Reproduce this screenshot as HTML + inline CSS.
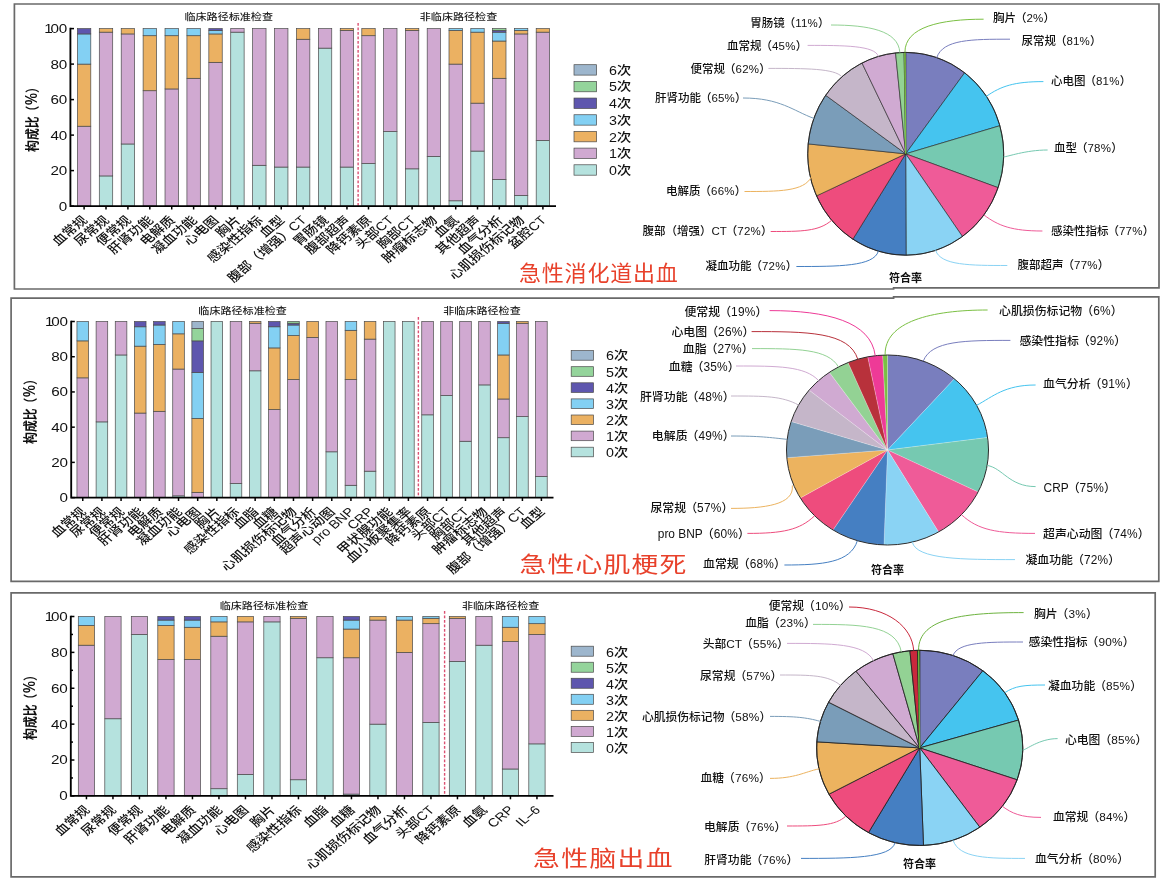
<!DOCTYPE html>
<html lang="zh"><head><meta charset="utf-8"><title>临床路径检查构成比与符合率</title>
<style>html,body{margin:0;padding:0;background:#fff}svg{display:block}text{font-family:'Liberation Sans', 'Noto Sans CJK SC', sans-serif}.pl,.xl,.lg{font-weight:500}</style></head><body>
<svg width="1165" height="884" viewBox="0 0 1165 884">
<rect width="1165" height="884" fill="#fff"/>
<path d="M14.4 4 H1159 V287.9 H893.6 V289 H14.4 Z" fill="#fff" stroke="#696969" stroke-width="1.7"/>
<g stroke="#4a4a4a" stroke-width="0.7">
<rect x="77.4" y="126.22" width="13.4" height="79.88" fill="#D0A9D1"/>
<rect x="77.4" y="64.1" width="13.4" height="62.12" fill="#EBB162"/>
<rect x="77.4" y="33.93" width="13.4" height="30.17" fill="#83D0F3"/>
<rect x="77.4" y="28.6" width="13.4" height="5.33" fill="#5E56AE"/>
<rect x="99.3" y="175.93" width="13.4" height="30.17" fill="#B5E2DE"/>
<rect x="99.3" y="32.15" width="13.4" height="143.78" fill="#D0A9D1"/>
<rect x="99.3" y="28.6" width="13.4" height="3.55" fill="#EBB162"/>
<rect x="121.21" y="143.97" width="13.4" height="62.12" fill="#B5E2DE"/>
<rect x="121.21" y="33.93" width="13.4" height="110.05" fill="#D0A9D1"/>
<rect x="121.21" y="28.6" width="13.4" height="5.33" fill="#EBB162"/>
<rect x="143.11" y="90.72" width="13.4" height="115.38" fill="#D0A9D1"/>
<rect x="143.11" y="35.7" width="13.4" height="55.02" fill="#EBB162"/>
<rect x="143.11" y="28.6" width="13.4" height="7.1" fill="#83D0F3"/>
<rect x="165.02" y="88.95" width="13.4" height="117.15" fill="#D0A9D1"/>
<rect x="165.02" y="35.7" width="13.4" height="53.25" fill="#EBB162"/>
<rect x="165.02" y="28.6" width="13.4" height="7.1" fill="#83D0F3"/>
<rect x="186.92" y="78.3" width="13.4" height="127.8" fill="#D0A9D1"/>
<rect x="186.92" y="35.7" width="13.4" height="42.6" fill="#EBB162"/>
<rect x="186.92" y="28.6" width="13.4" height="7.1" fill="#83D0F3"/>
<rect x="208.83" y="62.32" width="13.4" height="143.78" fill="#D0A9D1"/>
<rect x="208.83" y="33.93" width="13.4" height="28.4" fill="#EBB162"/>
<rect x="208.83" y="30.38" width="13.4" height="3.55" fill="#83D0F3"/>
<rect x="208.83" y="28.6" width="13.4" height="1.78" fill="#5E56AE"/>
<rect x="230.73" y="32.15" width="13.4" height="173.95" fill="#B5E2DE"/>
<rect x="230.73" y="28.6" width="13.4" height="3.55" fill="#D0A9D1"/>
<rect x="252.63" y="165.28" width="13.4" height="40.82" fill="#B5E2DE"/>
<rect x="252.63" y="28.6" width="13.4" height="136.68" fill="#D0A9D1"/>
<rect x="274.54" y="167.05" width="13.4" height="39.05" fill="#B5E2DE"/>
<rect x="274.54" y="28.6" width="13.4" height="138.45" fill="#D0A9D1"/>
<rect x="296.44" y="167.05" width="13.4" height="39.05" fill="#B5E2DE"/>
<rect x="296.44" y="39.25" width="13.4" height="127.8" fill="#D0A9D1"/>
<rect x="296.44" y="28.6" width="13.4" height="10.65" fill="#EBB162"/>
<rect x="318.35" y="48.12" width="13.4" height="157.97" fill="#B5E2DE"/>
<rect x="318.35" y="28.6" width="13.4" height="19.53" fill="#D0A9D1"/>
<rect x="340.25" y="167.05" width="13.4" height="39.05" fill="#B5E2DE"/>
<rect x="340.25" y="30.38" width="13.4" height="136.68" fill="#D0A9D1"/>
<rect x="340.25" y="28.6" width="13.4" height="1.78" fill="#EBB162"/>
<rect x="361.8" y="163.5" width="13.4" height="42.6" fill="#B5E2DE"/>
<rect x="361.8" y="35.7" width="13.4" height="127.8" fill="#D0A9D1"/>
<rect x="361.8" y="28.6" width="13.4" height="7.1" fill="#EBB162"/>
<rect x="383.6" y="131.55" width="13.4" height="74.55" fill="#B5E2DE"/>
<rect x="383.6" y="28.6" width="13.4" height="102.95" fill="#D0A9D1"/>
<rect x="405.4" y="168.82" width="13.4" height="37.28" fill="#B5E2DE"/>
<rect x="405.4" y="30.38" width="13.4" height="138.45" fill="#D0A9D1"/>
<rect x="405.4" y="28.6" width="13.4" height="1.78" fill="#EBB162"/>
<rect x="427.2" y="156.4" width="13.4" height="49.7" fill="#B5E2DE"/>
<rect x="427.2" y="28.6" width="13.4" height="127.8" fill="#D0A9D1"/>
<rect x="449" y="200.78" width="13.4" height="5.32" fill="#B5E2DE"/>
<rect x="449" y="64.1" width="13.4" height="136.68" fill="#D0A9D1"/>
<rect x="449" y="30.38" width="13.4" height="33.72" fill="#EBB162"/>
<rect x="449" y="28.6" width="13.4" height="1.78" fill="#83D0F3"/>
<rect x="470.8" y="151.07" width="13.4" height="55.03" fill="#B5E2DE"/>
<rect x="470.8" y="103.15" width="13.4" height="47.92" fill="#D0A9D1"/>
<rect x="470.8" y="32.15" width="13.4" height="71" fill="#EBB162"/>
<rect x="470.8" y="28.6" width="13.4" height="3.55" fill="#83D0F3"/>
<rect x="492.6" y="179.47" width="13.4" height="26.62" fill="#B5E2DE"/>
<rect x="492.6" y="78.3" width="13.4" height="101.17" fill="#D0A9D1"/>
<rect x="492.6" y="41.03" width="13.4" height="37.27" fill="#EBB162"/>
<rect x="492.6" y="32.15" width="13.4" height="8.88" fill="#83D0F3"/>
<rect x="492.6" y="30.38" width="13.4" height="1.78" fill="#5E56AE"/>
<rect x="492.6" y="28.6" width="13.4" height="1.78" fill="#94D49B"/>
<rect x="514.4" y="195.45" width="13.4" height="10.65" fill="#B5E2DE"/>
<rect x="514.4" y="33.93" width="13.4" height="161.52" fill="#D0A9D1"/>
<rect x="514.4" y="30.38" width="13.4" height="3.55" fill="#EBB162"/>
<rect x="514.4" y="28.6" width="13.4" height="1.78" fill="#83D0F3"/>
<rect x="536.2" y="140.43" width="13.4" height="65.67" fill="#B5E2DE"/>
<rect x="536.2" y="32.15" width="13.4" height="108.28" fill="#D0A9D1"/>
<rect x="536.2" y="28.6" width="13.4" height="3.55" fill="#EBB162"/>
</g>
<line x1="358.12" y1="23" x2="358.12" y2="206.1" stroke="#DB5072" stroke-width="1.4" stroke-dasharray="2.7,1.8"/>
<g stroke="#000" stroke-width="1.85" fill="none">
<path d="M70.4 27.8 V206.1 H556"/>
</g>
<g stroke="#000" stroke-width="1.5">
<line x1="70.4" y1="206.1" x2="74" y2="206.1"/>
<line x1="70.4" y1="170.6" x2="74" y2="170.6"/>
<line x1="70.4" y1="135.1" x2="74" y2="135.1"/>
<line x1="70.4" y1="99.6" x2="74" y2="99.6"/>
<line x1="70.4" y1="64.1" x2="74" y2="64.1"/>
<line x1="70.4" y1="28.6" x2="74" y2="28.6"/>
<line x1="84.1" y1="206.1" x2="84.1" y2="209.5"/>
<line x1="106" y1="206.1" x2="106" y2="209.5"/>
<line x1="127.91" y1="206.1" x2="127.91" y2="209.5"/>
<line x1="149.81" y1="206.1" x2="149.81" y2="209.5"/>
<line x1="171.72" y1="206.1" x2="171.72" y2="209.5"/>
<line x1="193.62" y1="206.1" x2="193.62" y2="209.5"/>
<line x1="215.53" y1="206.1" x2="215.53" y2="209.5"/>
<line x1="237.43" y1="206.1" x2="237.43" y2="209.5"/>
<line x1="259.33" y1="206.1" x2="259.33" y2="209.5"/>
<line x1="281.24" y1="206.1" x2="281.24" y2="209.5"/>
<line x1="303.14" y1="206.1" x2="303.14" y2="209.5"/>
<line x1="325.05" y1="206.1" x2="325.05" y2="209.5"/>
<line x1="346.95" y1="206.1" x2="346.95" y2="209.5"/>
<line x1="368.5" y1="206.1" x2="368.5" y2="209.5"/>
<line x1="390.3" y1="206.1" x2="390.3" y2="209.5"/>
<line x1="412.1" y1="206.1" x2="412.1" y2="209.5"/>
<line x1="433.9" y1="206.1" x2="433.9" y2="209.5"/>
<line x1="455.7" y1="206.1" x2="455.7" y2="209.5"/>
<line x1="477.5" y1="206.1" x2="477.5" y2="209.5"/>
<line x1="499.3" y1="206.1" x2="499.3" y2="209.5"/>
<line x1="521.1" y1="206.1" x2="521.1" y2="209.5"/>
<line x1="542.9" y1="206.1" x2="542.9" y2="209.5"/>
</g>
<g font-size="12.3" text-anchor="end" fill="#111">
<text transform="translate(67 210.5) scale(1.24 1)" letter-spacing="-0.2">0</text>
<text transform="translate(67 175) scale(1.24 1)" letter-spacing="-0.2">20</text>
<text transform="translate(67 139.5) scale(1.24 1)" letter-spacing="-0.2">40</text>
<text transform="translate(67 104) scale(1.24 1)" letter-spacing="-0.2">60</text>
<text transform="translate(67 68.5) scale(1.24 1)" letter-spacing="-0.2">80</text>
<text transform="translate(67 33) scale(1.24 1)" letter-spacing="-0.2"><tspan>1</tspan><tspan dx="-1.6">00</tspan></text>
</g>
<text class="yt" transform="translate(36.6 116.5) rotate(-90) scale(0.84 1)" text-anchor="middle" font-size="14.2" font-weight="bold" fill="#111">构成比<tspan dx="-1.5">（</tspan><tspan dx="0.6" font-size="16">%</tspan><tspan dx="0.2">）</tspan></text>
<g font-size="12" text-anchor="end" fill="#111">
<text class="xl" transform="translate(88.3 220.9) scale(1.19 1) rotate(-45)">血常规</text>
<text class="xl" transform="translate(110.2 220.9) scale(1.19 1) rotate(-45)">尿常规</text>
<text class="xl" transform="translate(132.11 220.9) scale(1.19 1) rotate(-45)">便常规</text>
<text class="xl" transform="translate(154.01 220.9) scale(1.19 1) rotate(-45)">肝肾功能</text>
<text class="xl" transform="translate(175.92 220.9) scale(1.19 1) rotate(-45)">电解质</text>
<text class="xl" transform="translate(197.82 220.9) scale(1.19 1) rotate(-45)">凝血功能</text>
<text class="xl" transform="translate(219.72 220.9) scale(1.19 1) rotate(-45)">心电图</text>
<text class="xl" transform="translate(241.63 220.9) scale(1.19 1) rotate(-45)">胸片</text>
<text class="xl" transform="translate(263.53 220.9) scale(1.19 1) rotate(-45)">感染性指标</text>
<text class="xl" transform="translate(285.44 220.9) scale(1.19 1) rotate(-45)">血型</text>
<text class="xl" transform="translate(307.34 220.9) scale(1.19 1) rotate(-45)">腹部（增强）CT</text>
<text class="xl" transform="translate(329.25 220.9) scale(1.19 1) rotate(-45)">胃肠镜</text>
<text class="xl" transform="translate(351.15 220.9) scale(1.19 1) rotate(-45)">腹部超声</text>
<text class="xl" transform="translate(372.7 220.9) scale(1.19 1) rotate(-45)">降钙素原</text>
<text class="xl" transform="translate(394.5 220.9) scale(1.19 1) rotate(-45)">头部CT</text>
<text class="xl" transform="translate(416.3 220.9) scale(1.19 1) rotate(-45)">胸部CT</text>
<text class="xl" transform="translate(438.1 220.9) scale(1.19 1) rotate(-45)">肿瘤标志物</text>
<text class="xl" transform="translate(459.9 220.9) scale(1.19 1) rotate(-45)">血氨</text>
<text class="xl" transform="translate(481.7 220.9) scale(1.19 1) rotate(-45)">其他超声</text>
<text class="xl" transform="translate(503.5 220.9) scale(1.19 1) rotate(-45)">血气分析</text>
<text class="xl" transform="translate(525.3 220.9) scale(1.19 1) rotate(-45)">心肌损伤标记物</text>
<text class="xl" transform="translate(547.1 220.9) scale(1.19 1) rotate(-45)">盆腔CT</text>
</g>
<text class="hd" transform="translate(228.7 20.3) scale(1.19 1)" text-anchor="middle" font-size="9.3" font-weight="500" fill="#222">临床路径标准检查</text>
<text class="hd" transform="translate(458.5 20.3) scale(1.19 1)" text-anchor="middle" font-size="9.3" font-weight="500" fill="#222">非临床路径检查</text>
<rect x="574" y="64.7" width="22.6" height="10.4" fill="#9DB6CD" stroke="#4a4a4a" stroke-width="0.7"/>
<text class="lg" transform="translate(609 74.8) scale(1.17 1)" font-size="12.2" fill="#111">6次</text>
<rect x="574" y="81.38" width="22.6" height="10.4" fill="#94D49B" stroke="#4a4a4a" stroke-width="0.7"/>
<text class="lg" transform="translate(609 91.48) scale(1.17 1)" font-size="12.2" fill="#111">5次</text>
<rect x="574" y="98.06" width="22.6" height="10.4" fill="#5E56AE" stroke="#4a4a4a" stroke-width="0.7"/>
<text class="lg" transform="translate(609 108.16) scale(1.17 1)" font-size="12.2" fill="#111">4次</text>
<rect x="574" y="114.74" width="22.6" height="10.4" fill="#83D0F3" stroke="#4a4a4a" stroke-width="0.7"/>
<text class="lg" transform="translate(609 124.84) scale(1.17 1)" font-size="12.2" fill="#111">3次</text>
<rect x="574" y="131.42" width="22.6" height="10.4" fill="#EBB162" stroke="#4a4a4a" stroke-width="0.7"/>
<text class="lg" transform="translate(609 141.52) scale(1.17 1)" font-size="12.2" fill="#111">2次</text>
<rect x="574" y="148.1" width="22.6" height="10.4" fill="#D0A9D1" stroke="#4a4a4a" stroke-width="0.7"/>
<text class="lg" transform="translate(609 158.2) scale(1.17 1)" font-size="12.2" fill="#111">1次</text>
<rect x="574" y="164.78" width="22.6" height="10.4" fill="#B5E2DE" stroke="#4a4a4a" stroke-width="0.7"/>
<text class="lg" transform="translate(609 174.88) scale(1.17 1)" font-size="12.2" fill="#111">0次</text>
<text class="tt" transform="translate(519 280.6) scale(1 1)" font-size="22" letter-spacing="0.8" fill="#E8412B">急性消化道出血</text>
<g stroke="#222" stroke-width="0.6" stroke-linejoin="round">
<path d="M905.7 153.8 L905.7 52.4 A98 101.4 0 0 1 964.62 72.77 Z" fill="#797EBE"/>
<path d="M905.7 153.8 L964.62 72.77 A98 101.4 0 0 1 999.86 125.71 Z" fill="#45C4EF"/>
<path d="M905.7 153.8 L999.86 125.71 A98 101.4 0 0 1 998.08 187.66 Z" fill="#76C9B1"/>
<path d="M905.7 153.8 L998.08 187.66 A98 101.4 0 0 1 962.42 236.49 Z" fill="#EF5B98"/>
<path d="M905.7 153.8 L962.42 236.49 A98 101.4 0 0 1 906.09 255.2 Z" fill="#8AD3F4"/>
<path d="M905.7 153.8 L906.09 255.2 A98 101.4 0 0 1 852.87 239.2 Z" fill="#457FC2"/>
<path d="M905.7 153.8 L852.87 239.2 A98 101.4 0 0 1 816.54 195.89 Z" fill="#EE4C7D"/>
<path d="M905.7 153.8 L816.54 195.89 A98 101.4 0 0 1 808.17 143.92 Z" fill="#ECB35F"/>
<path d="M905.7 153.8 L808.17 143.92 A98 101.4 0 0 1 825.67 95.28 Z" fill="#7A9DB9"/>
<path d="M905.7 153.8 L825.67 95.28 A98 101.4 0 0 1 862.03 63.03 Z" fill="#C5B6C9"/>
<path d="M905.7 153.8 L862.03 63.03 A98 101.4 0 0 1 895.57 52.94 Z" fill="#D0AAD2"/>
<path d="M905.7 153.8 L895.57 52.94 A98 101.4 0 0 1 904.14 52.41 Z" fill="#93D294"/>
<path d="M905.7 153.8 L904.14 52.41 A98 101.4 0 0 1 905.7 52.4 Z" fill="#7BC043"/>
</g>
<line x1="905.7" y1="153.8" x2="904.92" y2="52.4" stroke="#7BC043" stroke-width="1.3"/>
<ellipse cx="905.7" cy="153.8" rx="98" ry="101.4" fill="none" stroke="#222" stroke-width="0.95"/>
<path d="M936.76 57.63 C942.92 39.2 972.24 39.2 1010 39.2" fill="none" stroke="#797EBE" stroke-width="1"/>
<text class="pl" x="1021.4" y="44.6" text-anchor="start" font-size="11.5" fill="#111">尿常规<tspan dx="-1">（</tspan><tspan letter-spacing="0.2">81%</tspan>）</text>
<path d="M986.4 96.27 C1000.94 86.26 1013.97 81.6 1043.4 81.6" fill="none" stroke="#45C4EF" stroke-width="1"/>
<text class="pl" x="1051" y="84.6" text-anchor="start" font-size="11.5" fill="#111">心电图<tspan dx="-1">（</tspan><tspan letter-spacing="0.2">81%</tspan>）</text>
<path d="M1003.66 156.83 C1007.21 156.93 1025.36 150 1047.6 150" fill="none" stroke="#76C9B1" stroke-width="1"/>
<text class="pl" x="1054" y="152" text-anchor="start" font-size="11.5" fill="#111">血型<tspan dx="-1">（</tspan><tspan letter-spacing="0.2">78%</tspan>）</text>
<path d="M983.89 214.93 C998.42 225.9 1012.06 231 1042.4 231" fill="none" stroke="#EF5B98" stroke-width="1"/>
<text class="pl" x="1051" y="234.7" text-anchor="start" font-size="11.5" fill="#111">感染性指标<tspan dx="-1">（</tspan><tspan letter-spacing="0.2">77%</tspan>）</text>
<path d="M935.65 250.35 C940.51 265.5 970.68 265.5 1007.3 265.5" fill="none" stroke="#8AD3F4" stroke-width="1"/>
<text class="pl" x="1017.6" y="269" text-anchor="start" font-size="11.5" fill="#111">腹部超声<tspan dx="-1">（</tspan><tspan letter-spacing="0.2">77%</tspan>）</text>
<path d="M878.36 251.17 C873.91 266.5 838.09 266.5 796.4 266.5" fill="none" stroke="#457FC2" stroke-width="1"/>
<text class="pl" x="797.13" y="269.9" text-anchor="end" font-size="11.5" fill="#111">凝血功能<tspan dx="-1">（</tspan><tspan letter-spacing="0.2">72%</tspan>）</text>
<path d="M831.68 220.26 C818.73 231.5 801.71 231.5 770.7 231.5" fill="none" stroke="#EE4C7D" stroke-width="1"/>
<text class="pl" x="772.43" y="235.2" text-anchor="end" font-size="11.5" fill="#111">腹部（增强）CT<tspan dx="-1">（</tspan><tspan letter-spacing="0.2">72%</tspan>）</text>
<path d="M811.3 177 C804.05 191.5 778.68 191.5 744.5 191.5" fill="none" stroke="#ECB35F" stroke-width="1"/>
<text class="pl" x="746.23" y="195" text-anchor="end" font-size="11.5" fill="#111">电解质<tspan dx="-1">（</tspan><tspan letter-spacing="0.2">66%</tspan>）</text>
<path d="M813.86 118.42 C793.12 110.71 779.87 98 743 98" fill="none" stroke="#7A9DB9" stroke-width="1"/>
<text class="pl" x="746.53" y="102.4" text-anchor="end" font-size="11.5" fill="#111">肝肾功能<tspan dx="-1">（</tspan><tspan letter-spacing="0.2">65%</tspan>）</text>
<path d="M841.91 76.82 C834.69 68.4 805.4 68.4 768.4 68.4" fill="none" stroke="#C5B6C9" stroke-width="1"/>
<text class="pl" x="770.73" y="73" text-anchor="end" font-size="11.5" fill="#111">便常规<tspan dx="-1">（</tspan><tspan letter-spacing="0.2">62%</tspan>）</text>
<path d="M878.36 56.43 C875.16 45.4 843.41 45.4 807.6 45.4" fill="none" stroke="#D0AAD2" stroke-width="1"/>
<text class="pl" x="807.13" y="50" text-anchor="end" font-size="11.5" fill="#111">血常规<tspan dx="-1">（</tspan><tspan letter-spacing="0.2">45%</tspan>）</text>
<path d="M899.85 52.58 C898.52 30.37 868.08 25 831 25" fill="none" stroke="#93D294" stroke-width="1"/>
<text class="pl" x="829.53" y="27" text-anchor="end" font-size="11.5" fill="#111">胃肠镜<tspan dx="-1">（</tspan><tspan letter-spacing="0.2">11%</tspan>）</text>
<path d="M904.92 52.4 C904.72 26.78 940.9 19.2 983.6 19.2" fill="none" stroke="#7BC043" stroke-width="1"/>
<text class="pl" x="993" y="22" text-anchor="start" font-size="11.5" fill="#111">胸片<tspan dx="-1">（</tspan><tspan letter-spacing="0.2">2%</tspan>）</text>
<text class="rt" x="905.6" y="282" text-anchor="middle" font-size="11" font-weight="bold" fill="#111">符合率</text>
<path d="M11.1 298.1 H893.6 V296.8 H1158.8 V581.4 H11.1 Z" fill="#fff" stroke="#696969" stroke-width="1.7"/>
<g stroke="#4a4a4a" stroke-width="0.7">
<rect x="76.95" y="377.85" width="11.6" height="119.75" fill="#D0A9D1"/>
<rect x="76.95" y="340.87" width="11.6" height="36.98" fill="#EBB162"/>
<rect x="76.95" y="321.5" width="11.6" height="19.37" fill="#83D0F3"/>
<rect x="96.11" y="421.88" width="11.6" height="75.72" fill="#B5E2DE"/>
<rect x="96.11" y="321.5" width="11.6" height="100.38" fill="#D0A9D1"/>
<rect x="115.26" y="354.96" width="11.6" height="142.64" fill="#B5E2DE"/>
<rect x="115.26" y="321.5" width="11.6" height="33.46" fill="#D0A9D1"/>
<rect x="134.42" y="413.07" width="11.6" height="84.53" fill="#D0A9D1"/>
<rect x="134.42" y="346.15" width="11.6" height="66.92" fill="#EBB162"/>
<rect x="134.42" y="326.78" width="11.6" height="19.37" fill="#83D0F3"/>
<rect x="134.42" y="321.5" width="11.6" height="5.28" fill="#5E56AE"/>
<rect x="153.57" y="411.31" width="11.6" height="86.29" fill="#D0A9D1"/>
<rect x="153.57" y="344.39" width="11.6" height="66.92" fill="#EBB162"/>
<rect x="153.57" y="325.02" width="11.6" height="19.37" fill="#83D0F3"/>
<rect x="153.57" y="321.5" width="11.6" height="3.52" fill="#5E56AE"/>
<rect x="172.73" y="495.84" width="11.6" height="1.76" fill="#B5E2DE"/>
<rect x="172.73" y="369.05" width="11.6" height="126.79" fill="#D0A9D1"/>
<rect x="172.73" y="333.83" width="11.6" height="35.22" fill="#EBB162"/>
<rect x="172.73" y="321.5" width="11.6" height="12.33" fill="#83D0F3"/>
<rect x="191.88" y="492.32" width="11.6" height="5.28" fill="#D0A9D1"/>
<rect x="191.88" y="418.36" width="11.6" height="73.96" fill="#EBB162"/>
<rect x="191.88" y="372.57" width="11.6" height="45.79" fill="#83D0F3"/>
<rect x="191.88" y="340.87" width="11.6" height="31.7" fill="#5E56AE"/>
<rect x="191.88" y="328.54" width="11.6" height="12.33" fill="#94D49B"/>
<rect x="191.88" y="321.5" width="11.6" height="7.04" fill="#9DB6CD"/>
<rect x="211.04" y="321.5" width="11.6" height="176.1" fill="#B5E2DE"/>
<rect x="230.19" y="483.51" width="11.6" height="14.09" fill="#B5E2DE"/>
<rect x="230.19" y="321.5" width="11.6" height="162.01" fill="#D0A9D1"/>
<rect x="249.35" y="370.81" width="11.6" height="126.79" fill="#B5E2DE"/>
<rect x="249.35" y="323.26" width="11.6" height="47.55" fill="#D0A9D1"/>
<rect x="249.35" y="321.5" width="11.6" height="1.76" fill="#EBB162"/>
<rect x="268.51" y="409.55" width="11.6" height="88.05" fill="#D0A9D1"/>
<rect x="268.51" y="347.92" width="11.6" height="61.63" fill="#EBB162"/>
<rect x="268.51" y="326.78" width="11.6" height="21.13" fill="#83D0F3"/>
<rect x="268.51" y="321.5" width="11.6" height="5.28" fill="#5E56AE"/>
<rect x="287.66" y="379.61" width="11.6" height="117.99" fill="#D0A9D1"/>
<rect x="287.66" y="335.59" width="11.6" height="44.02" fill="#EBB162"/>
<rect x="287.66" y="325.02" width="11.6" height="10.57" fill="#83D0F3"/>
<rect x="287.66" y="323.26" width="11.6" height="1.76" fill="#5E56AE"/>
<rect x="287.66" y="321.5" width="11.6" height="1.76" fill="#94D49B"/>
<rect x="306.82" y="337.35" width="11.6" height="160.25" fill="#D0A9D1"/>
<rect x="306.82" y="321.5" width="11.6" height="15.85" fill="#EBB162"/>
<rect x="325.97" y="451.81" width="11.6" height="45.79" fill="#B5E2DE"/>
<rect x="325.97" y="321.5" width="11.6" height="130.31" fill="#D0A9D1"/>
<rect x="345.13" y="485.27" width="11.6" height="12.33" fill="#B5E2DE"/>
<rect x="345.13" y="379.61" width="11.6" height="105.66" fill="#D0A9D1"/>
<rect x="345.13" y="330.31" width="11.6" height="49.31" fill="#EBB162"/>
<rect x="345.13" y="321.5" width="11.6" height="8.81" fill="#83D0F3"/>
<rect x="364.28" y="471.19" width="11.6" height="26.42" fill="#B5E2DE"/>
<rect x="364.28" y="339.11" width="11.6" height="132.07" fill="#D0A9D1"/>
<rect x="364.28" y="321.5" width="11.6" height="17.61" fill="#EBB162"/>
<rect x="383.44" y="321.5" width="11.6" height="176.1" fill="#B5E2DE"/>
<rect x="402.59" y="321.5" width="11.6" height="176.1" fill="#B5E2DE"/>
<rect x="421.75" y="414.83" width="11.6" height="82.77" fill="#B5E2DE"/>
<rect x="421.75" y="321.5" width="11.6" height="93.33" fill="#D0A9D1"/>
<rect x="440.73" y="395.46" width="11.6" height="102.14" fill="#B5E2DE"/>
<rect x="440.73" y="321.5" width="11.6" height="73.96" fill="#D0A9D1"/>
<rect x="459.7" y="441.25" width="11.6" height="56.35" fill="#B5E2DE"/>
<rect x="459.7" y="321.5" width="11.6" height="119.75" fill="#D0A9D1"/>
<rect x="478.68" y="384.9" width="11.6" height="112.7" fill="#B5E2DE"/>
<rect x="478.68" y="321.5" width="11.6" height="63.4" fill="#D0A9D1"/>
<rect x="497.65" y="437.73" width="11.6" height="59.87" fill="#B5E2DE"/>
<rect x="497.65" y="398.98" width="11.6" height="38.74" fill="#D0A9D1"/>
<rect x="497.65" y="354.96" width="11.6" height="44.03" fill="#EBB162"/>
<rect x="497.65" y="323.26" width="11.6" height="31.7" fill="#83D0F3"/>
<rect x="497.65" y="321.5" width="11.6" height="1.76" fill="#5E56AE"/>
<rect x="516.62" y="416.59" width="11.6" height="81.01" fill="#B5E2DE"/>
<rect x="516.62" y="323.26" width="11.6" height="93.33" fill="#D0A9D1"/>
<rect x="516.62" y="321.5" width="11.6" height="1.76" fill="#EBB162"/>
<rect x="535.6" y="476.47" width="11.6" height="21.13" fill="#B5E2DE"/>
<rect x="535.6" y="321.5" width="11.6" height="154.97" fill="#D0A9D1"/>
</g>
<line x1="418.37" y1="317" x2="418.37" y2="497.6" stroke="#DB5072" stroke-width="1.4" stroke-dasharray="2.7,1.8"/>
<g stroke="#000" stroke-width="1.85" fill="none">
<path d="M71.2 320.7 V497.6 H553.5"/>
</g>
<g stroke="#000" stroke-width="1.5">
<line x1="71.2" y1="497.6" x2="74.8" y2="497.6"/>
<line x1="71.2" y1="462.38" x2="74.8" y2="462.38"/>
<line x1="71.2" y1="427.16" x2="74.8" y2="427.16"/>
<line x1="71.2" y1="391.94" x2="74.8" y2="391.94"/>
<line x1="71.2" y1="356.72" x2="74.8" y2="356.72"/>
<line x1="71.2" y1="321.5" x2="74.8" y2="321.5"/>
<line x1="82.75" y1="497.6" x2="82.75" y2="501"/>
<line x1="101.91" y1="497.6" x2="101.91" y2="501"/>
<line x1="121.06" y1="497.6" x2="121.06" y2="501"/>
<line x1="140.22" y1="497.6" x2="140.22" y2="501"/>
<line x1="159.37" y1="497.6" x2="159.37" y2="501"/>
<line x1="178.53" y1="497.6" x2="178.53" y2="501"/>
<line x1="197.68" y1="497.6" x2="197.68" y2="501"/>
<line x1="216.84" y1="497.6" x2="216.84" y2="501"/>
<line x1="235.99" y1="497.6" x2="235.99" y2="501"/>
<line x1="255.15" y1="497.6" x2="255.15" y2="501"/>
<line x1="274.31" y1="497.6" x2="274.31" y2="501"/>
<line x1="293.46" y1="497.6" x2="293.46" y2="501"/>
<line x1="312.62" y1="497.6" x2="312.62" y2="501"/>
<line x1="331.77" y1="497.6" x2="331.77" y2="501"/>
<line x1="350.93" y1="497.6" x2="350.93" y2="501"/>
<line x1="370.08" y1="497.6" x2="370.08" y2="501"/>
<line x1="389.24" y1="497.6" x2="389.24" y2="501"/>
<line x1="408.39" y1="497.6" x2="408.39" y2="501"/>
<line x1="427.55" y1="497.6" x2="427.55" y2="501"/>
<line x1="446.53" y1="497.6" x2="446.53" y2="501"/>
<line x1="465.5" y1="497.6" x2="465.5" y2="501"/>
<line x1="484.48" y1="497.6" x2="484.48" y2="501"/>
<line x1="503.45" y1="497.6" x2="503.45" y2="501"/>
<line x1="522.42" y1="497.6" x2="522.42" y2="501"/>
<line x1="541.4" y1="497.6" x2="541.4" y2="501"/>
</g>
<g font-size="12.3" text-anchor="end" fill="#111">
<text transform="translate(67.8 502) scale(1.24 1)" letter-spacing="-0.2">0</text>
<text transform="translate(67.8 466.78) scale(1.24 1)" letter-spacing="-0.2">20</text>
<text transform="translate(67.8 431.56) scale(1.24 1)" letter-spacing="-0.2">40</text>
<text transform="translate(67.8 396.34) scale(1.24 1)" letter-spacing="-0.2">60</text>
<text transform="translate(67.8 361.12) scale(1.24 1)" letter-spacing="-0.2">80</text>
<text transform="translate(67.8 325.9) scale(1.24 1)" letter-spacing="-0.2"><tspan>1</tspan><tspan dx="-1.6">00</tspan></text>
</g>
<text class="yt" transform="translate(34.6 408.5) rotate(-90) scale(0.84 1)" text-anchor="middle" font-size="14.2" font-weight="bold" fill="#111">构成比<tspan dx="-1.5">（</tspan><tspan dx="0.6" font-size="16">%</tspan><tspan dx="0.2">）</tspan></text>
<g font-size="12" text-anchor="end" fill="#111">
<text class="xl" transform="translate(86.95 512.4) scale(1.19 1) rotate(-45)">血常规</text>
<text class="xl" transform="translate(106.11 512.4) scale(1.19 1) rotate(-45)">尿常规</text>
<text class="xl" transform="translate(125.26 512.4) scale(1.19 1) rotate(-45)">便常规</text>
<text class="xl" transform="translate(144.42 512.4) scale(1.19 1) rotate(-45)">肝肾功能</text>
<text class="xl" transform="translate(163.57 512.4) scale(1.19 1) rotate(-45)">电解质</text>
<text class="xl" transform="translate(182.73 512.4) scale(1.19 1) rotate(-45)">凝血功能</text>
<text class="xl" transform="translate(201.88 512.4) scale(1.19 1) rotate(-45)">心电图</text>
<text class="xl" transform="translate(221.04 512.4) scale(1.19 1) rotate(-45)">胸片</text>
<text class="xl" transform="translate(240.19 512.4) scale(1.19 1) rotate(-45)">感染性指标</text>
<text class="xl" transform="translate(259.35 512.4) scale(1.19 1) rotate(-45)">血脂</text>
<text class="xl" transform="translate(278.51 512.4) scale(1.19 1) rotate(-45)">血糖</text>
<text class="xl" transform="translate(297.66 512.4) scale(1.19 1) rotate(-45)">心肌损伤标记物</text>
<text class="xl" transform="translate(316.82 512.4) scale(1.19 1) rotate(-45)">血气分析</text>
<text class="xl" transform="translate(335.97 512.4) scale(1.19 1) rotate(-45)">超声心动图</text>
<text class="xl" transform="translate(355.13 512.4) scale(1.19 1) rotate(-45)">pro BNP</text>
<text class="xl" transform="translate(374.28 512.4) scale(1.19 1) rotate(-45)">CRP</text>
<text class="xl" transform="translate(393.44 512.4) scale(1.19 1) rotate(-45)">甲状腺功能</text>
<text class="xl" transform="translate(412.59 512.4) scale(1.19 1) rotate(-45)">血小板聚集率</text>
<text class="xl" transform="translate(431.75 512.4) scale(1.19 1) rotate(-45)">降钙素原</text>
<text class="xl" transform="translate(450.73 512.4) scale(1.19 1) rotate(-45)">头部CT</text>
<text class="xl" transform="translate(469.7 512.4) scale(1.19 1) rotate(-45)">胸部CT</text>
<text class="xl" transform="translate(488.68 512.4) scale(1.19 1) rotate(-45)">肿瘤标志物</text>
<text class="xl" transform="translate(507.65 512.4) scale(1.19 1) rotate(-45)">其他超声</text>
<text class="xl" transform="translate(526.62 512.4) scale(1.19 1) rotate(-45)">腹部（增强）CT</text>
<text class="xl" transform="translate(545.6 512.4) scale(1.19 1) rotate(-45)">血型</text>
</g>
<text class="hd" transform="translate(242.6 314.1) scale(1.19 1)" text-anchor="middle" font-size="9.3" font-weight="500" fill="#222">临床路径标准检查</text>
<text class="hd" transform="translate(482 314.1) scale(1.19 1)" text-anchor="middle" font-size="9.3" font-weight="500" fill="#222">非临床路径检查</text>
<rect x="571.2" y="350.6" width="22.3" height="9.6" fill="#9DB6CD" stroke="#4a4a4a" stroke-width="0.7"/>
<text class="lg" transform="translate(606 360.4) scale(1.17 1)" font-size="12.2" fill="#111">6次</text>
<rect x="571.2" y="366.7" width="22.3" height="9.6" fill="#94D49B" stroke="#4a4a4a" stroke-width="0.7"/>
<text class="lg" transform="translate(606 376.5) scale(1.17 1)" font-size="12.2" fill="#111">5次</text>
<rect x="571.2" y="382.8" width="22.3" height="9.6" fill="#5E56AE" stroke="#4a4a4a" stroke-width="0.7"/>
<text class="lg" transform="translate(606 392.6) scale(1.17 1)" font-size="12.2" fill="#111">4次</text>
<rect x="571.2" y="398.9" width="22.3" height="9.6" fill="#83D0F3" stroke="#4a4a4a" stroke-width="0.7"/>
<text class="lg" transform="translate(606 408.7) scale(1.17 1)" font-size="12.2" fill="#111">3次</text>
<rect x="571.2" y="415" width="22.3" height="9.6" fill="#EBB162" stroke="#4a4a4a" stroke-width="0.7"/>
<text class="lg" transform="translate(606 424.8) scale(1.17 1)" font-size="12.2" fill="#111">2次</text>
<rect x="571.2" y="431.1" width="22.3" height="9.6" fill="#D0A9D1" stroke="#4a4a4a" stroke-width="0.7"/>
<text class="lg" transform="translate(606 440.9) scale(1.17 1)" font-size="12.2" fill="#111">1次</text>
<rect x="571.2" y="447.2" width="22.3" height="9.6" fill="#B5E2DE" stroke="#4a4a4a" stroke-width="0.7"/>
<text class="lg" transform="translate(606 457) scale(1.17 1)" font-size="12.2" fill="#111">0次</text>
<text class="tt" transform="translate(519.6 571.7) scale(1.22 1)" font-size="22" letter-spacing="0.95" fill="#E8412B">急性心肌梗死</text>
<g stroke="rgba(255,255,255,0.35)" stroke-width="0.6" stroke-linejoin="round">
<path d="M887.5 450 L887.5 355 A101 95 0 0 1 954.36 378.8 Z" fill="#797EBE"/>
<path d="M887.5 450 L954.36 378.8 A101 95 0 0 1 987.63 437.52 Z" fill="#45C4EF"/>
<path d="M887.5 450 L987.63 437.52 A101 95 0 0 1 978.09 492.01 Z" fill="#76C9B1"/>
<path d="M887.5 450 L978.09 492.01 A101 95 0 0 1 938.63 531.93 Z" fill="#EF5B98"/>
<path d="M887.5 450 L938.63 531.93 A101 95 0 0 1 883.93 544.94 Z" fill="#8AD3F4"/>
<path d="M887.5 450 L883.93 544.94 A101 95 0 0 1 832.99 529.97 Z" fill="#457FC2"/>
<path d="M887.5 450 L832.99 529.97 A101 95 0 0 1 800.3 497.93 Z" fill="#EE4C7D"/>
<path d="M887.5 450 L800.3 497.93 A101 95 0 0 1 786.83 457.65 Z" fill="#ECB35F"/>
<path d="M887.5 450 L786.83 457.65 A101 95 0 0 1 791.15 421.5 Z" fill="#7A9DB9"/>
<path d="M887.5 450 L791.15 421.5 A101 95 0 0 1 809.1 390.1 Z" fill="#C5B6C9"/>
<path d="M887.5 450 L809.1 390.1 A101 95 0 0 1 829.36 372.32 Z" fill="#D0AAD2"/>
<path d="M887.5 450 L829.36 372.32 A101 95 0 0 1 848.07 362.54 Z" fill="#93D294"/>
<path d="M887.5 450 L848.07 362.54 A101 95 0 0 1 867.77 356.83 Z" fill="#B8313B"/>
<path d="M887.5 450 L867.77 356.83 A101 95 0 0 1 882.74 355.11 Z" fill="#EE3A97"/>
<path d="M887.5 450 L882.74 355.11 A101 95 0 0 1 887.5 355 Z" fill="#7BC043"/>
</g>
<ellipse cx="887.5" cy="450" rx="101" ry="95" fill="none" stroke="#222" stroke-width="0.95"/>
<path d="M923.24 361.15 C931.09 340.4 965.6 340.4 1010.4 340.4" fill="none" stroke="#797EBE" stroke-width="1"/>
<text class="pl" x="1019.4" y="345" text-anchor="start" font-size="11.9" fill="#111">感染性指标<tspan dx="-1">（</tspan><tspan letter-spacing="0.2">92%</tspan>）</text>
<path d="M976.64 405.33 C993.15 396.53 1004.42 385 1035.6 385" fill="none" stroke="#45C4EF" stroke-width="1"/>
<text class="pl" x="1043" y="388" text-anchor="start" font-size="11.9" fill="#111">血气分析<tspan dx="-1">（</tspan><tspan letter-spacing="0.2">91%</tspan>）</text>
<path d="M987.16 465.43 C1002.81 468.01 1009.17 486.6 1035.6 486.6" fill="none" stroke="#76C9B1" stroke-width="1"/>
<text class="pl" x="1043.6" y="491.6" text-anchor="start" font-size="11.9" fill="#111">CRP<tspan dx="-1">（</tspan><tspan letter-spacing="0.2">75%</tspan>）</text>
<path d="M961.47 514.69 C978.14 530.19 997.06 533.4 1035 533.4" fill="none" stroke="#EF5B98" stroke-width="1"/>
<text class="pl" x="1043" y="537.6" text-anchor="start" font-size="11.9" fill="#111">超声心动图<tspan dx="-1">（</tspan><tspan letter-spacing="0.2">74%</tspan>）</text>
<path d="M912.26 542.1 C916.69 559.6 962.89 559.6 1015 559.6" fill="none" stroke="#8AD3F4" stroke-width="1"/>
<text class="pl" x="1025.4" y="564" text-anchor="start" font-size="11.9" fill="#111">凝血功能<tspan dx="-1">（</tspan><tspan letter-spacing="0.2">72%</tspan>）</text>
<path d="M857.39 540.68 C850.51 562.71 822.87 565 784.4 565" fill="none" stroke="#457FC2" stroke-width="1"/>
<text class="pl" x="785.98" y="568.4" text-anchor="end" font-size="11.9" fill="#111">血常规<tspan dx="-1">（</tspan><tspan letter-spacing="0.2">68%</tspan>）</text>
<path d="M814.62 515.77 C799.58 530.21 782.15 533.4 747.4 533.4" fill="none" stroke="#EE4C7D" stroke-width="1"/>
<text class="pl" x="749.98" y="537.6" text-anchor="end" font-size="11.9" fill="#111">pro BNP<tspan dx="-1">（</tspan><tspan letter-spacing="0.2">60%</tspan>）</text>
<path d="M792.3 485.5 C794.64 504.99 763.72 508.4 731 508.4" fill="none" stroke="#ECB35F" stroke-width="1"/>
<text class="pl" x="733.38" y="512.4" text-anchor="end" font-size="11.9" fill="#111">尿常规<tspan dx="-1">（</tspan><tspan letter-spacing="0.2">57%</tspan>）</text>
<path d="M787.13 439.38 C770.37 437.49 759.12 436 731 436" fill="none" stroke="#7A9DB9" stroke-width="1"/>
<text class="pl" x="734.78" y="439.6" text-anchor="end" font-size="11.9" fill="#111">电解质<tspan dx="-1">（</tspan><tspan letter-spacing="0.2">49%</tspan>）</text>
<path d="M798.55 405 C781.81 396 765.07 396 731 396" fill="none" stroke="#C5B6C9" stroke-width="1"/>
<text class="pl" x="734.78" y="401" text-anchor="end" font-size="11.9" fill="#111">肝肾功能<tspan dx="-1">（</tspan><tspan letter-spacing="0.2">48%</tspan>）</text>
<path d="M818.58 380.55 C805 366 777.93 366 736 366" fill="none" stroke="#D0AAD2" stroke-width="1"/>
<text class="pl" x="739.78" y="370.6" text-anchor="end" font-size="11.9" fill="#111">血糖<tspan dx="-1">（</tspan><tspan letter-spacing="0.2">35%</tspan>）</text>
<path d="M838.44 366.96 C828.24 348.6 796.18 348.6 752 348.6" fill="none" stroke="#93D294" stroke-width="1"/>
<text class="pl" x="753.78" y="353" text-anchor="end" font-size="11.9" fill="#111">血脂<tspan dx="-1">（</tspan><tspan letter-spacing="0.2">27%</tspan>）</text>
<path d="M857.77 359.21 C849.26 331.6 806.45 331.6 751.6 331.6" fill="none" stroke="#B8313B" stroke-width="1"/>
<text class="pl" x="754.38" y="336" text-anchor="end" font-size="11.9" fill="#111">心电图<tspan dx="-1">（</tspan><tspan letter-spacing="0.2">26%</tspan>）</text>
<path d="M875.22 355.7 C871.03 321.51 827.02 310.6 769.6 310.6" fill="none" stroke="#EE3A97" stroke-width="1"/>
<text class="pl" x="767.38" y="316" text-anchor="end" font-size="11.9" fill="#111">便常规<tspan dx="-1">（</tspan><tspan letter-spacing="0.2">19%</tspan>）</text>
<path d="M885.12 355.03 C884.33 321.45 931.63 310 987.6 310" fill="none" stroke="#7BC043" stroke-width="1"/>
<text class="pl" x="999" y="314.6" text-anchor="start" font-size="11.9" fill="#111">心肌损伤标记物<tspan dx="-1">（</tspan><tspan letter-spacing="0.2">6%</tspan>）</text>
<text class="rt" x="887.5" y="574" text-anchor="middle" font-size="11" font-weight="bold" fill="#111">符合率</text>
<path d="M11.1 592.9 H1155.2 V876.8 H11.1 Z" fill="#fff" stroke="#696969" stroke-width="1.7"/>
<g stroke="#4a4a4a" stroke-width="0.7">
<rect x="78.3" y="645.2" width="16.3" height="150.7" fill="#D0A9D1"/>
<rect x="78.3" y="625.47" width="16.3" height="19.73" fill="#EBB162"/>
<rect x="78.3" y="616.5" width="16.3" height="8.97" fill="#83D0F3"/>
<rect x="104.8" y="718.76" width="16.3" height="77.14" fill="#B5E2DE"/>
<rect x="104.8" y="616.5" width="16.3" height="102.26" fill="#D0A9D1"/>
<rect x="131.3" y="634.44" width="16.3" height="161.46" fill="#B5E2DE"/>
<rect x="131.3" y="616.5" width="16.3" height="17.94" fill="#D0A9D1"/>
<rect x="157.8" y="659.56" width="16.3" height="136.34" fill="#D0A9D1"/>
<rect x="157.8" y="625.47" width="16.3" height="34.09" fill="#EBB162"/>
<rect x="157.8" y="620.09" width="16.3" height="5.38" fill="#83D0F3"/>
<rect x="157.8" y="616.5" width="16.3" height="3.59" fill="#5E56AE"/>
<rect x="184.3" y="659.56" width="16.3" height="136.34" fill="#D0A9D1"/>
<rect x="184.3" y="627.26" width="16.3" height="32.29" fill="#EBB162"/>
<rect x="184.3" y="620.09" width="16.3" height="7.18" fill="#83D0F3"/>
<rect x="184.3" y="616.5" width="16.3" height="3.59" fill="#5E56AE"/>
<rect x="210.8" y="788.72" width="16.3" height="7.18" fill="#B5E2DE"/>
<rect x="210.8" y="636.23" width="16.3" height="152.49" fill="#D0A9D1"/>
<rect x="210.8" y="621.88" width="16.3" height="14.35" fill="#EBB162"/>
<rect x="210.8" y="616.5" width="16.3" height="5.38" fill="#83D0F3"/>
<rect x="237.3" y="774.37" width="16.3" height="21.53" fill="#B5E2DE"/>
<rect x="237.3" y="621.88" width="16.3" height="152.49" fill="#D0A9D1"/>
<rect x="237.3" y="616.5" width="16.3" height="5.38" fill="#EBB162"/>
<rect x="263.8" y="621.88" width="16.3" height="174.02" fill="#B5E2DE"/>
<rect x="263.8" y="616.5" width="16.3" height="5.38" fill="#D0A9D1"/>
<rect x="290.3" y="779.75" width="16.3" height="16.15" fill="#B5E2DE"/>
<rect x="290.3" y="618.29" width="16.3" height="161.46" fill="#D0A9D1"/>
<rect x="290.3" y="616.5" width="16.3" height="1.79" fill="#EBB162"/>
<rect x="316.8" y="657.76" width="16.3" height="138.14" fill="#B5E2DE"/>
<rect x="316.8" y="616.5" width="16.3" height="41.26" fill="#D0A9D1"/>
<rect x="343.3" y="794.11" width="16.3" height="1.79" fill="#B5E2DE"/>
<rect x="343.3" y="657.76" width="16.3" height="136.34" fill="#D0A9D1"/>
<rect x="343.3" y="629.06" width="16.3" height="28.7" fill="#EBB162"/>
<rect x="343.3" y="620.09" width="16.3" height="8.97" fill="#83D0F3"/>
<rect x="343.3" y="616.5" width="16.3" height="3.59" fill="#5E56AE"/>
<rect x="369.8" y="724.14" width="16.3" height="71.76" fill="#B5E2DE"/>
<rect x="369.8" y="620.09" width="16.3" height="104.05" fill="#D0A9D1"/>
<rect x="369.8" y="616.5" width="16.3" height="3.59" fill="#EBB162"/>
<rect x="396.3" y="652.38" width="16.3" height="143.52" fill="#D0A9D1"/>
<rect x="396.3" y="620.09" width="16.3" height="32.29" fill="#EBB162"/>
<rect x="396.3" y="616.5" width="16.3" height="3.59" fill="#83D0F3"/>
<rect x="422.8" y="722.35" width="16.3" height="73.55" fill="#B5E2DE"/>
<rect x="422.8" y="623.68" width="16.3" height="98.67" fill="#D0A9D1"/>
<rect x="422.8" y="618.29" width="16.3" height="5.38" fill="#EBB162"/>
<rect x="422.8" y="616.5" width="16.3" height="1.79" fill="#83D0F3"/>
<rect x="449.3" y="661.35" width="16.3" height="134.55" fill="#B5E2DE"/>
<rect x="449.3" y="618.29" width="16.3" height="43.06" fill="#D0A9D1"/>
<rect x="449.3" y="616.5" width="16.3" height="1.79" fill="#EBB162"/>
<rect x="475.8" y="645.2" width="16.3" height="150.7" fill="#B5E2DE"/>
<rect x="475.8" y="616.5" width="16.3" height="28.7" fill="#D0A9D1"/>
<rect x="502.3" y="768.99" width="16.3" height="26.91" fill="#B5E2DE"/>
<rect x="502.3" y="641.62" width="16.3" height="127.37" fill="#D0A9D1"/>
<rect x="502.3" y="627.26" width="16.3" height="14.35" fill="#EBB162"/>
<rect x="502.3" y="616.5" width="16.3" height="10.76" fill="#83D0F3"/>
<rect x="528.8" y="743.87" width="16.3" height="52.03" fill="#B5E2DE"/>
<rect x="528.8" y="634.44" width="16.3" height="109.43" fill="#D0A9D1"/>
<rect x="528.8" y="623.68" width="16.3" height="10.76" fill="#EBB162"/>
<rect x="528.8" y="616.5" width="16.3" height="7.18" fill="#83D0F3"/>
</g>
<line x1="444.6" y1="611" x2="444.6" y2="795.9" stroke="#DB5072" stroke-width="1.4" stroke-dasharray="2.7,1.8"/>
<g stroke="#000" stroke-width="1.85" fill="none">
<path d="M70.8 615.7 V795.9 H553.5"/>
</g>
<g stroke="#000" stroke-width="1.5">
<line x1="70.8" y1="795.9" x2="74.4" y2="795.9"/>
<line x1="70.8" y1="760.02" x2="74.4" y2="760.02"/>
<line x1="70.8" y1="724.14" x2="74.4" y2="724.14"/>
<line x1="70.8" y1="688.26" x2="74.4" y2="688.26"/>
<line x1="70.8" y1="652.38" x2="74.4" y2="652.38"/>
<line x1="70.8" y1="616.5" x2="74.4" y2="616.5"/>
<line x1="70.8" y1="777.96" x2="73" y2="777.96"/>
<line x1="70.8" y1="742.08" x2="73" y2="742.08"/>
<line x1="70.8" y1="706.2" x2="73" y2="706.2"/>
<line x1="70.8" y1="670.32" x2="73" y2="670.32"/>
<line x1="70.8" y1="634.44" x2="73" y2="634.44"/>
<line x1="86.45" y1="795.9" x2="86.45" y2="799.3"/>
<line x1="112.95" y1="795.9" x2="112.95" y2="799.3"/>
<line x1="139.45" y1="795.9" x2="139.45" y2="799.3"/>
<line x1="165.95" y1="795.9" x2="165.95" y2="799.3"/>
<line x1="192.45" y1="795.9" x2="192.45" y2="799.3"/>
<line x1="218.95" y1="795.9" x2="218.95" y2="799.3"/>
<line x1="245.45" y1="795.9" x2="245.45" y2="799.3"/>
<line x1="271.95" y1="795.9" x2="271.95" y2="799.3"/>
<line x1="298.45" y1="795.9" x2="298.45" y2="799.3"/>
<line x1="324.95" y1="795.9" x2="324.95" y2="799.3"/>
<line x1="351.45" y1="795.9" x2="351.45" y2="799.3"/>
<line x1="377.95" y1="795.9" x2="377.95" y2="799.3"/>
<line x1="404.45" y1="795.9" x2="404.45" y2="799.3"/>
<line x1="430.95" y1="795.9" x2="430.95" y2="799.3"/>
<line x1="457.45" y1="795.9" x2="457.45" y2="799.3"/>
<line x1="483.95" y1="795.9" x2="483.95" y2="799.3"/>
<line x1="510.45" y1="795.9" x2="510.45" y2="799.3"/>
<line x1="536.95" y1="795.9" x2="536.95" y2="799.3"/>
</g>
<g font-size="12.3" text-anchor="end" fill="#111">
<text transform="translate(67.4 800.3) scale(1.24 1)" letter-spacing="-0.2">0</text>
<text transform="translate(67.4 764.42) scale(1.24 1)" letter-spacing="-0.2">20</text>
<text transform="translate(67.4 728.54) scale(1.24 1)" letter-spacing="-0.2">40</text>
<text transform="translate(67.4 692.66) scale(1.24 1)" letter-spacing="-0.2">60</text>
<text transform="translate(67.4 656.78) scale(1.24 1)" letter-spacing="-0.2">80</text>
<text transform="translate(67.4 620.9) scale(1.24 1)" letter-spacing="-0.2"><tspan>1</tspan><tspan dx="-1.6">00</tspan></text>
</g>
<text class="yt" transform="translate(34.6 704.5) rotate(-90) scale(0.84 1)" text-anchor="middle" font-size="14.2" font-weight="bold" fill="#111">构成比<tspan dx="-1.5">（</tspan><tspan dx="0.6" font-size="16">%</tspan><tspan dx="0.2">）</tspan></text>
<g font-size="12" text-anchor="end" fill="#111">
<text class="xl" transform="translate(90.65 810.7) scale(1.19 1) rotate(-45)">血常规</text>
<text class="xl" transform="translate(117.15 810.7) scale(1.19 1) rotate(-45)">尿常规</text>
<text class="xl" transform="translate(143.65 810.7) scale(1.19 1) rotate(-45)">便常规</text>
<text class="xl" transform="translate(170.15 810.7) scale(1.19 1) rotate(-45)">肝肾功能</text>
<text class="xl" transform="translate(196.65 810.7) scale(1.19 1) rotate(-45)">电解质</text>
<text class="xl" transform="translate(223.15 810.7) scale(1.19 1) rotate(-45)">凝血功能</text>
<text class="xl" transform="translate(249.65 810.7) scale(1.19 1) rotate(-45)">心电图</text>
<text class="xl" transform="translate(276.15 810.7) scale(1.19 1) rotate(-45)">胸片</text>
<text class="xl" transform="translate(302.65 810.7) scale(1.19 1) rotate(-45)">感染性指标</text>
<text class="xl" transform="translate(329.15 810.7) scale(1.19 1) rotate(-45)">血脂</text>
<text class="xl" transform="translate(355.65 810.7) scale(1.19 1) rotate(-45)">血糖</text>
<text class="xl" transform="translate(382.15 810.7) scale(1.19 1) rotate(-45)">心肌损伤标记物</text>
<text class="xl" transform="translate(408.65 810.7) scale(1.19 1) rotate(-45)">血气分析</text>
<text class="xl" transform="translate(435.15 810.7) scale(1.19 1) rotate(-45)">头部CT</text>
<text class="xl" transform="translate(461.65 810.7) scale(1.19 1) rotate(-45)">降钙素原</text>
<text class="xl" transform="translate(488.15 810.7) scale(1.19 1) rotate(-45)">血氨</text>
<text class="xl" transform="translate(514.65 810.7) scale(1.19 1) rotate(-45)">CRP</text>
<text class="xl" transform="translate(541.15 810.7) scale(1.19 1) rotate(-45)">IL–6</text>
</g>
<text class="hd" transform="translate(264 609.1) scale(1.19 1)" text-anchor="middle" font-size="9.3" font-weight="500" fill="#222">临床路径标准检查</text>
<text class="hd" transform="translate(500.7 609.1) scale(1.19 1)" text-anchor="middle" font-size="9.3" font-weight="500" fill="#222">非临床路径检查</text>
<rect x="571.2" y="646.2" width="22.3" height="10" fill="#9DB6CD" stroke="#4a4a4a" stroke-width="0.7"/>
<text class="lg" transform="translate(606 657.1) scale(1.17 1)" font-size="12.2" fill="#111">6次</text>
<rect x="571.2" y="662.23" width="22.3" height="10" fill="#94D49B" stroke="#4a4a4a" stroke-width="0.7"/>
<text class="lg" transform="translate(606 673.13) scale(1.17 1)" font-size="12.2" fill="#111">5次</text>
<rect x="571.2" y="678.26" width="22.3" height="10" fill="#5E56AE" stroke="#4a4a4a" stroke-width="0.7"/>
<text class="lg" transform="translate(606 689.16) scale(1.17 1)" font-size="12.2" fill="#111">4次</text>
<rect x="571.2" y="694.29" width="22.3" height="10" fill="#83D0F3" stroke="#4a4a4a" stroke-width="0.7"/>
<text class="lg" transform="translate(606 705.19) scale(1.17 1)" font-size="12.2" fill="#111">3次</text>
<rect x="571.2" y="710.32" width="22.3" height="10" fill="#EBB162" stroke="#4a4a4a" stroke-width="0.7"/>
<text class="lg" transform="translate(606 721.22) scale(1.17 1)" font-size="12.2" fill="#111">2次</text>
<rect x="571.2" y="726.35" width="22.3" height="10" fill="#D0A9D1" stroke="#4a4a4a" stroke-width="0.7"/>
<text class="lg" transform="translate(606 737.25) scale(1.17 1)" font-size="12.2" fill="#111">1次</text>
<rect x="571.2" y="742.38" width="22.3" height="10" fill="#B5E2DE" stroke="#4a4a4a" stroke-width="0.7"/>
<text class="lg" transform="translate(606 753.28) scale(1.17 1)" font-size="12.2" fill="#111">0次</text>
<text class="tt" transform="translate(533.1 866) scale(1.22 1)" font-size="22" letter-spacing="1.1" fill="#E8412B">急性脑出血</text>
<g stroke="#222" stroke-width="0.85" stroke-linejoin="round">
<path d="M919.7 747.9 L919.7 650.3 A103.1 97.6 0 0 1 982.84 670.74 Z" fill="#797EBE"/>
<path d="M919.7 747.9 L982.84 670.74 A103.1 97.6 0 0 1 1018.52 720.06 Z" fill="#45C4EF"/>
<path d="M919.7 747.9 L1018.52 720.06 A103.1 97.6 0 0 1 1017.13 779.82 Z" fill="#76C9B1"/>
<path d="M919.7 747.9 L1017.13 779.82 A103.1 97.6 0 0 1 979.81 827.19 Z" fill="#EF5B98"/>
<path d="M919.7 747.9 L979.81 827.19 A103.1 97.6 0 0 1 923.47 845.43 Z" fill="#8AD3F4"/>
<path d="M919.7 747.9 L923.47 845.43 A103.1 97.6 0 0 1 868.48 832.6 Z" fill="#457FC2"/>
<path d="M919.7 747.9 L868.48 832.6 A103.1 97.6 0 0 1 828.94 794.2 Z" fill="#EE4C7D"/>
<path d="M919.7 747.9 L828.94 794.2 A103.1 97.6 0 0 1 816.8 741.83 Z" fill="#ECB35F"/>
<path d="M919.7 747.9 L816.8 741.83 A103.1 97.6 0 0 1 828.59 702.23 Z" fill="#7A9DB9"/>
<path d="M919.7 747.9 L828.59 702.23 A103.1 97.6 0 0 1 855.97 671.18 Z" fill="#C5B6C9"/>
<path d="M919.7 747.9 L855.97 671.18 A103.1 97.6 0 0 1 892.83 653.67 Z" fill="#D0AAD2"/>
<path d="M919.7 747.9 L892.83 653.67 A103.1 97.6 0 0 1 909.9 650.74 Z" fill="#93D294"/>
<path d="M919.7 747.9 L909.9 650.74 A103.1 97.6 0 0 1 917.44 650.32 Z" fill="#C9283C"/>
<path d="M919.7 747.9 L917.44 650.32 A103.1 97.6 0 0 1 919.7 650.3 Z" fill="#6DB33F"/>
</g>
<line x1="919.7" y1="747.9" x2="918.57" y2="650.31" stroke="#6DB33F" stroke-width="1.3"/>
<ellipse cx="919.7" cy="747.9" rx="103.1" ry="97.6" fill="none" stroke="#222" stroke-width="0.95"/>
<path d="M953.06 655.55 C957.7 642 987.38 642 1023 642" fill="none" stroke="#797EBE" stroke-width="1"/>
<text class="pl" x="1028.6" y="646.4" text-anchor="start" font-size="11.8" fill="#111">感染性指标<tspan dx="-1">（</tspan><tspan letter-spacing="0.2">90%</tspan>）</text>
<path d="M1004.76 692.75 C1014.91 685.81 1024.51 685 1045 685" fill="none" stroke="#45C4EF" stroke-width="1"/>
<text class="pl" x="1048" y="689.6" text-anchor="start" font-size="11.8" fill="#111">凝血功能<tspan dx="-1">（</tspan><tspan letter-spacing="0.2">85%</tspan>）</text>
<path d="M1022.78 750.04 C1025.71 750.11 1039.27 738.6 1057.6 738.6" fill="none" stroke="#76C9B1" stroke-width="1"/>
<text class="pl" x="1065" y="743.6" text-anchor="start" font-size="11.8" fill="#111">心电图<tspan dx="-1">（</tspan><tspan letter-spacing="0.2">85%</tspan>）</text>
<path d="M1002.35 806.25 C1012.02 813.46 1020.89 817.4 1041 817.4" fill="none" stroke="#EF5B98" stroke-width="1"/>
<text class="pl" x="1053" y="821.4" text-anchor="start" font-size="11.8" fill="#111">血常规<tspan dx="-1">（</tspan><tspan letter-spacing="0.2">84%</tspan>）</text>
<path d="M953.06 840.25 C959.27 858.4 987.9 858.4 1025 858.4" fill="none" stroke="#8AD3F4" stroke-width="1"/>
<text class="pl" x="1035" y="863" text-anchor="start" font-size="11.8" fill="#111">血气分析<tspan dx="-1">（</tspan><tspan letter-spacing="0.2">80%</tspan>）</text>
<path d="M895.03 842.66 C891.15 858.4 848.67 858.4 801 858.4" fill="none" stroke="#457FC2" stroke-width="1"/>
<text class="pl" x="798.32" y="864" text-anchor="end" font-size="11.8" fill="#111">肝肾功能<tspan dx="-1">（</tspan><tspan letter-spacing="0.2">76%</tspan>）</text>
<path d="M845.87 816.02 C835.63 826 816.85 826 787 826" fill="none" stroke="#EE4C7D" stroke-width="1"/>
<text class="pl" x="786.32" y="831" text-anchor="end" font-size="11.8" fill="#111">电解质<tspan dx="-1">（</tspan><tspan letter-spacing="0.2">76%</tspan>）</text>
<path d="M819 768.82 C804.37 772.03 794.96 778.4 770 778.4" fill="none" stroke="#ECB35F" stroke-width="1"/>
<text class="pl" x="770.92" y="781.6" text-anchor="end" font-size="11.8" fill="#111">血糖<tspan dx="-1">（</tspan><tspan letter-spacing="0.2">76%</tspan>）</text>
<path d="M820.46 721.43 C805.82 717.31 795.36 716.4 770 716.4" fill="none" stroke="#7A9DB9" stroke-width="1"/>
<text class="pl" x="771.32" y="720.6" text-anchor="end" font-size="11.8" fill="#111">心肌损伤标记物<tspan dx="-1">（</tspan><tspan letter-spacing="0.2">58%</tspan>）</text>
<path d="M840.56 685.35 C828.17 675 810.72 675 780 675" fill="none" stroke="#C5B6C9" stroke-width="1"/>
<text class="pl" x="782.32" y="680" text-anchor="end" font-size="11.8" fill="#111">尿常规<tspan dx="-1">（</tspan><tspan letter-spacing="0.2">57%</tspan>）</text>
<path d="M873.47 660.66 C864.8 643.4 831.09 643.4 787 643.4" fill="none" stroke="#D0AAD2" stroke-width="1"/>
<text class="pl" x="788.92" y="647.6" text-anchor="end" font-size="11.8" fill="#111">头部CT<tspan dx="-1">（</tspan><tspan letter-spacing="0.2">55%</tspan>）</text>
<path d="M901.3 651.87 C896.35 624.57 859.24 624.4 813 624.4" fill="none" stroke="#93D294" stroke-width="1"/>
<text class="pl" x="815.72" y="627.4" text-anchor="end" font-size="11.8" fill="#111">血脂<tspan dx="-1">（</tspan><tspan letter-spacing="0.2">23%</tspan>）</text>
<path d="M913.66 650.47 C912.29 627.13 887.96 607 849 607" fill="none" stroke="#C9283C" stroke-width="1"/>
<text class="pl" x="850.92" y="610" text-anchor="end" font-size="11.8" fill="#111">便常规<tspan dx="-1">（</tspan><tspan letter-spacing="0.2">10%</tspan>）</text>
<path d="M918.57 650.31 C918.2 616.83 967.8 612.6 1023.6 612.6" fill="none" stroke="#6DB33F" stroke-width="1"/>
<text class="pl" x="1034" y="618.4" text-anchor="start" font-size="11.8" fill="#111">胸片<tspan dx="-1">（</tspan><tspan letter-spacing="0.2">3%</tspan>）</text>
<text class="rt" x="919.4" y="867.5" text-anchor="middle" font-size="11" font-weight="bold" fill="#111">符合率</text>
</svg></body></html>
